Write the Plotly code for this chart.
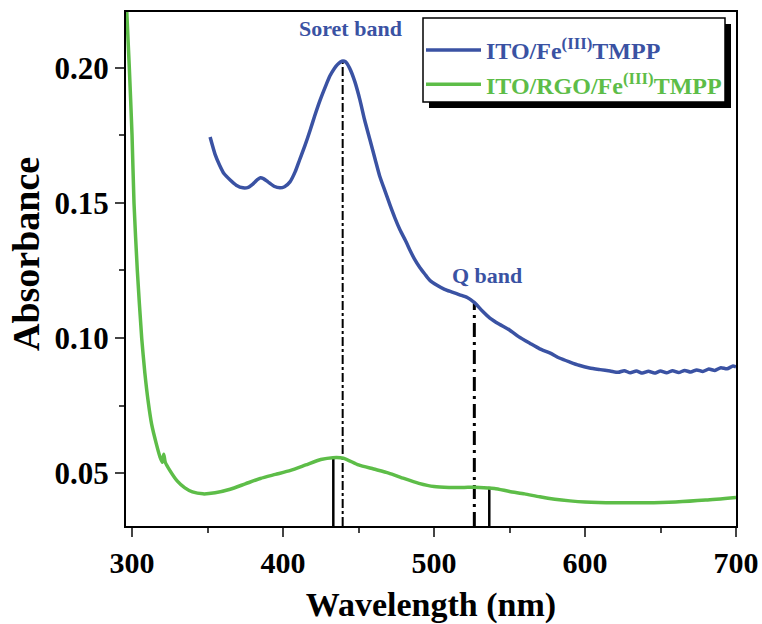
import plotly.graph_objects as go

# ---- data ----
wl_fe = [351.7, 355, 358, 361, 365, 369, 373.5, 377, 380, 383, 385, 387, 390, 394, 398, 401, 404.6, 408,
         411, 414.5, 418, 421, 424.5, 428, 431, 434, 436, 438, 439.7, 441.5, 444, 447.5, 451, 454,
         457.6, 461, 464, 467.5, 471, 474, 477.5, 481, 484, 487, 490.7, 494, 497, 502, 507, 512,
         517, 522, 527, 532, 537, 543, 550, 556, 563.6, 570, 577, 583, 590, 596, 603, 610, 616.6,
         622, 626, 630, 634, 638, 642, 646, 650, 654, 658, 662, 666, 670, 674, 678, 682, 686, 690,
         694, 698, 700]
abs_fe = [0.1744, 0.1680, 0.1640, 0.1608, 0.1585, 0.1566, 0.1556, 0.1558, 0.1570, 0.1586, 0.1593, 0.1590,
          0.1578, 0.1562, 0.1556, 0.1560, 0.1578, 0.1615, 0.1660, 0.1712, 0.1770, 0.1823, 0.1880, 0.1930,
          0.1970, 0.1998, 0.2012, 0.2022, 0.2026, 0.2022, 0.2000, 0.1950, 0.1880, 0.1808, 0.1733, 0.1662,
          0.1600, 0.1545, 0.1490, 0.1446, 0.1400, 0.1362, 0.1326, 0.1293, 0.1260, 0.1236, 0.1215, 0.1195,
          0.1180, 0.1170, 0.1160, 0.1150, 0.1130, 0.1100, 0.1074, 0.1052, 0.1030, 0.1005, 0.0980, 0.0960,
          0.0944, 0.0926, 0.0911, 0.0899, 0.0889, 0.0883, 0.0878, 0.0873, 0.0879, 0.0871, 0.0878, 0.0870,
          0.0877, 0.0870, 0.0878, 0.0871, 0.0879, 0.0872, 0.0880, 0.0874, 0.0882, 0.0876, 0.0885, 0.0880,
          0.0890, 0.0886, 0.0896, 0.0893, 0.0905, 0.0907]

wl_rgo = [296.5, 298.2, 300, 301.3, 303.5, 306.4, 308.5, 310.8, 313, 316, 318.5, 320, 321, 322, 325, 330,
          335, 340, 347, 355, 365, 375, 385, 395, 405, 415, 425, 433, 440, 450, 460, 470, 480, 490,
          500, 510, 520, 530, 540, 550, 560, 570, 580, 590, 600, 620, 640, 660, 680, 700]
abs_rgo = [0.2210, 0.2000, 0.1750, 0.1500, 0.1250, 0.1000, 0.0870, 0.0760, 0.0680, 0.0610, 0.0560, 0.0540,
           0.0570, 0.0540, 0.0510, 0.0470, 0.0445, 0.0430, 0.0423, 0.0427, 0.0440, 0.0460, 0.0480, 0.0495,
           0.0510, 0.0530, 0.0550, 0.0557, 0.0555, 0.0530, 0.0515, 0.0500, 0.0480, 0.0462, 0.0450, 0.0447,
           0.0447, 0.0447, 0.0443, 0.0432, 0.0423, 0.0412, 0.0403, 0.0397, 0.0393, 0.0390, 0.0390, 0.0393,
           0.0400, 0.0410]

soret_x, soret_top = 439.5, 0.2026
qband_x, qband_top = 526.7, 0.1128
rgo_marks_x = [433.3, 536.6]
rgo_marks_top = [0.0555, 0.0449]

x_ticks = [300, 400, 500, 600, 700]
y_ticks = [0.05, 0.10, 0.15, 0.20]
y_tick_text = ["0.05", "0.10", "0.15", "0.20"]

BLUE = "#3a52a3"
GREEN = "#5dbd48"
FONT = "Liberation Serif"
YMIN, YMAX = 0.0304, 0.2207

# plot area in pixels: x 126..736, y 12..526
PW, PH = 610, 514


def px(xp):
    return (xp - 126) / PW


def py(yp):
    return 1 - (yp - 12) / PH


fig = go.Figure()

# reference lines
fig.add_trace(go.Scatter(x=[soret_x, soret_x], y=[YMIN, soret_top], mode="lines",
                         line=dict(color="black", width=2, dash="dashdot"), showlegend=False, hoverinfo="skip"))
fig.add_trace(go.Scatter(x=[qband_x, qband_x], y=[YMIN, qband_top], mode="lines",
                         line=dict(color="black", width=3, dash="14px,5px,3px,5px"), showlegend=False, hoverinfo="skip"))
for mx, mt in zip(rgo_marks_x, rgo_marks_top):
    fig.add_trace(go.Scatter(x=[mx, mx], y=[YMIN, mt], mode="lines",
                             line=dict(color="black", width=2.5), showlegend=False, hoverinfo="skip"))

fig.add_trace(go.Scatter(x=wl_fe, y=abs_fe, mode="lines", line=dict(color=BLUE, width=3.5, shape="spline", smoothing=0.6),
                         name=f'<b><span style="color:{BLUE}">ITO/Fe<sup>(III)</sup>TMPP</span></b>'))
fig.add_trace(go.Scatter(x=wl_rgo, y=abs_rgo, mode="lines", line=dict(color=GREEN, width=3.5, shape="spline", smoothing=0.6),
                         name=f'<b><span style="color:{GREEN}">ITO/RGO/Fe<sup>(III)</sup>TMPP</span></b>'))

fig.add_annotation(x=soret_x + 5, y=0.2145, text="<b>Soret band</b>", showarrow=False,
                   font=dict(family=FONT, size=22, color=BLUE), xanchor="center", yanchor="middle")
fig.add_annotation(x=535, y=0.1232, text="<b>Q band</b>", showarrow=False,
                   font=dict(family=FONT, size=22, color=BLUE), xanchor="center", yanchor="middle")

# y axis title as annotation (placed as in reference)
fig.add_annotation(xref="paper", yref="paper", x=px(26), y=py(254), text="<b>Absorbance</b>", textangle=-90,
                   showarrow=False, font=dict(family=FONT, size=38, color="black"),
                   xanchor="center", yanchor="middle")

# legend shadow and box
fig.add_shape(type="rect", xref="paper", yref="paper",
              x0=px(429), x1=px(731), y0=py(108), y1=py(24),
              fillcolor="black", line=dict(width=0), layer="above")
fig.add_shape(type="rect", xref="paper", yref="paper",
              x0=px(423), x1=px(725), y0=py(102), y1=py(18),
              fillcolor="white", line=dict(width=1.5, color="black"), layer="above")

fig.update_layout(
    width=762, height=624,
    margin=dict(l=126, r=26, t=12, b=98),
    paper_bgcolor="white", plot_bgcolor="white",
    font=dict(family=FONT, color="black"),
    legend=dict(x=px(421), y=py(28), xanchor="left", yanchor="top",
                bgcolor="rgba(0,0,0,0)", borderwidth=0,
                font=dict(family=FONT, size=24, color="black"),
                tracegroupgap=0, itemwidth=55),
    xaxis=dict(range=[296, 700], tickvals=x_ticks, ticktext=[f"<b>{t}</b>" for t in x_ticks],
               ticks="outside", ticklen=9, tickwidth=2, automargin=False,
               showline=True, linewidth=2, linecolor="black", mirror=True, showgrid=False, zeroline=False,
               tickfont=dict(family=FONT, size=30, color="black"),
               minor=dict(tickvals=[350, 450, 550, 650], ticks="outside", ticklen=5, tickwidth=2),
               title=dict(text="<b>Wavelength (nm)</b>", font=dict(family=FONT, size=34), standoff=14)),
    yaxis=dict(range=[YMIN, YMAX], tickvals=y_ticks, ticktext=[f"<b>{t}</b>" for t in y_tick_text],
               ticks="outside", ticklen=9, tickwidth=2, automargin=False,
               showline=True, linewidth=2, linecolor="black", mirror=True, showgrid=False, zeroline=False,
               tickfont=dict(family=FONT, size=31, color="black"),
               minor=dict(tickvals=[0.075, 0.125, 0.175], ticks="outside", ticklen=5, tickwidth=2)),
)

fig.write_html("out.html", config={"displayModeBar": False},
               post_script="document.body.style.margin='0';document.body.style.overflow='hidden';")
